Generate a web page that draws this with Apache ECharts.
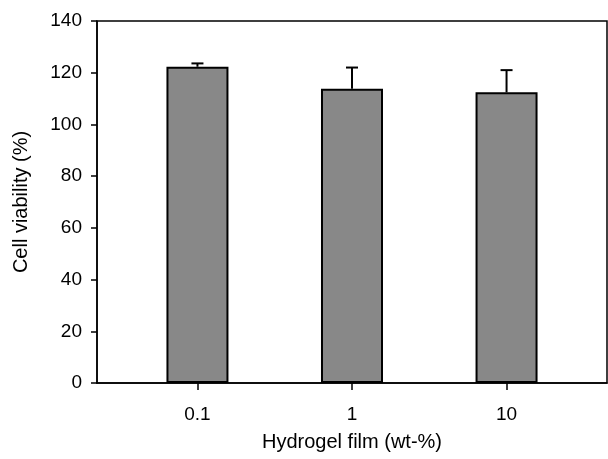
<!DOCTYPE html>
<html>
<head>
<meta charset="utf-8">
<script src="https://cdn.jsdelivr.net/npm/echarts@6/dist/echarts.min.js"></script>
<style>
  html, body { margin: 0; padding: 0; background: #fff; }
  #chart { width: 608px; height: 459px; }
</style>
</head>
<body>
<div id="chart"></div>
<script>
// data
const categories = ['0.1', '1', '10'];
const viability = [122.3, 113.8, 112.4];
const errors = [1.3, 8.2, 8.6];
const yTicks = [0, 20, 40, 60, 80, 100, 120, 140];

const positions = categories.map((c, i) => i + 1);
const barData = positions.map((p, i) => [p, viability[i]]);
const errData = positions.map((p, i) => [p, viability[i], viability[i] + errors[i]]);

let chart = echarts.init(document.getElementById('chart'));
const font = 'Liberation Sans, Arial, sans-serif';

let options = {
    animation: false,
    grid: {
        left: 97, right: 1, top: 21, bottom: 76,
        show: true, borderColor: '#000', borderWidth: 1.5, backgroundColor: 'transparent'
    },
    xAxis: {
        type: 'value',
        min: 0.35,
        max: 3.65,
        splitLine: { show: false },
        axisLine: { lineStyle: { color: '#000', width: 1.5 } },
        axisTick: { customValues: positions, length: 7, lineStyle: { color: '#000', width: 1.5 } },
        axisLabel: {
            customValues: positions,
            formatter: v => categories[Math.round(v) - 1],
            color: '#000', fontSize: 19, fontFamily: font, margin: 22
        },
        name: 'Hydrogel film (wt-%)',
        nameLocation: 'middle',
        nameGap: 49,
        nameTextStyle: { color: '#000', fontSize: 20, fontFamily: font }
    },
    yAxis: {
        type: 'value',
        min: 0,
        max: 140,
        interval: 20,
        splitLine: { show: false },
        axisLine: { show: true, lineStyle: { color: '#000', width: 1.5 } },
        axisTick: { show: true, length: 6, lineStyle: { color: '#000', width: 1.5 } },
        axisLabel: {
            color: '#000', fontSize: 19, fontFamily: font, margin: 15,
            customValues: yTicks
        },
        name: 'Cell viability (%)',
        nameLocation: 'middle',
        nameGap: 66,
        nameTextStyle: { color: '#000', fontSize: 20, fontFamily: font }
    },
    series: [
        {
            type: 'custom',
            z: 1,
            renderItem: (params, api) => {
                let x = api.value(0);
                let base = api.coord([x, api.value(1)]);
                let top = api.coord([x, api.value(2)]);
                let half = 6;
                return {
                    type: 'group',
                    children: [
                        { type: 'line', shape: { x1: base[0], y1: base[1], x2: top[0], y2: top[1] },
                          style: { stroke: '#000', lineWidth: 2 } },
                        { type: 'line', shape: { x1: top[0] - half, y1: top[1], x2: top[0] + half, y2: top[1] },
                          style: { stroke: '#000', lineWidth: 2 } }
                    ]
                };
            },
            data: errData
        },
        {
            type: 'bar',
            z: 2,
            barWidth: 62,
            itemStyle: { color: '#888888', borderColor: '#000', borderWidth: 2 },
            data: barData
        }
    ]
};

chart.setOption(options);
</script>
</body>
</html>
